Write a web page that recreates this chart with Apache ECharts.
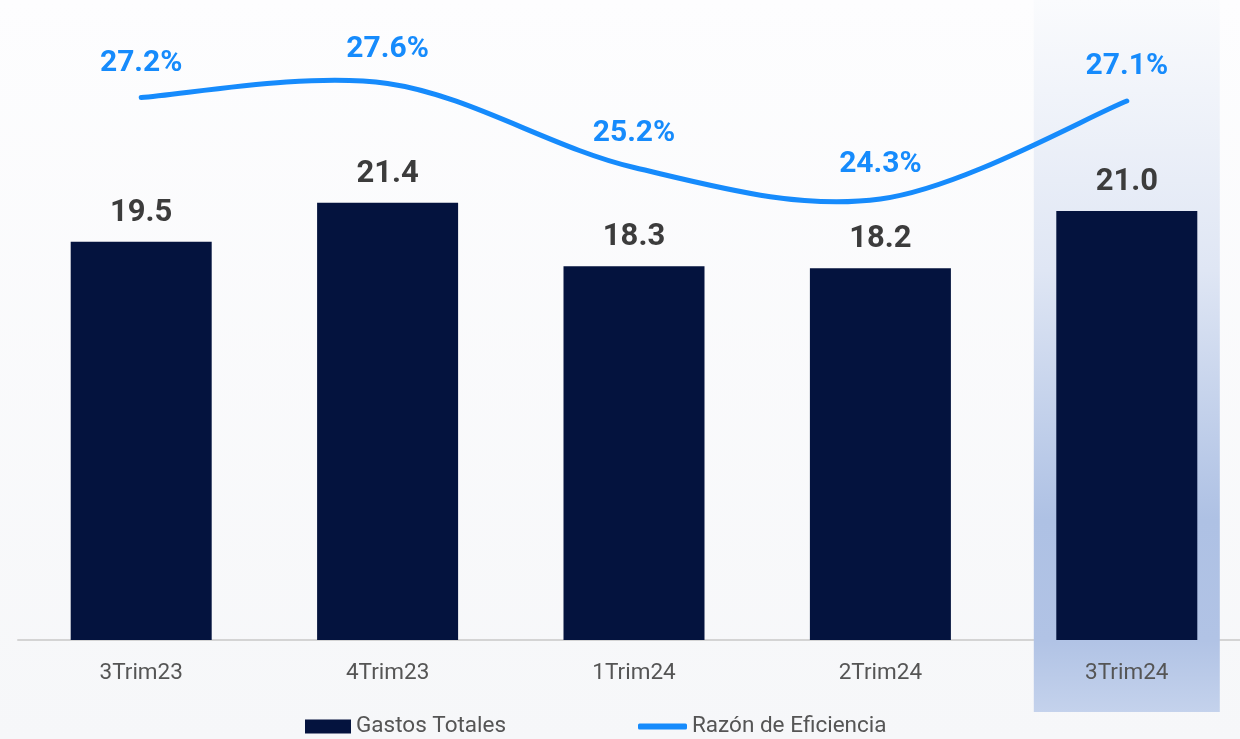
<!DOCTYPE html>
<html>
<head>
<meta charset="utf-8">
<script src="https://cdn.jsdelivr.net/npm/echarts@6/dist/echarts.min.js"></script>
<style>
  html, body { margin: 0; padding: 0; overflow: hidden; background: #f9fafb; }
  /* el area de trazado se sale un poco por la derecha, como en el original */
  #main { width: 1252px; height: 739px; background: linear-gradient(#fdfdfe, #f6f7f9); }
</style>
</head>
<body>
<div id="main"></div>
<script>
// datos
const categorias = ['3Trim23', '4Trim23', '1Trim24', '2Trim24', '3Trim24'];
const gastosTotales = [19.5, 21.4, 18.3, 18.2, 21.0];
const razonEficiencia = [27.2, 27.6, 25.2, 24.3, 27.1];
// trimestre resaltado (1 = columna sombreada)
const resaltado = [null, null, null, null, 1];

const chart = echarts.init(document.getElementById('main'));
const fuente = 'Roboto, "Noto Sans", sans-serif';
const azul = '#168bfc';

// curva suavizada tipo Excel (catmull-rom) a partir de los puntos de la serie
function dibujarCurva(params, api) {
  if (params.dataIndex !== 0) return;
  const pts = razonEficiencia.map((v, i) => api.coord([i, v]));
  const n = pts.length;
  let d = 'M' + pts[0][0] + ',' + pts[0][1];
  for (let i = 0; i < n - 1; i++) {
    const p0 = pts[Math.max(i - 1, 0)], p1 = pts[i], p2 = pts[i + 1], p3 = pts[Math.min(i + 2, n - 1)];
    const c1 = [p1[0] + (p2[0] - p0[0]) / 6, p1[1] + (p2[1] - p0[1]) / 6];
    const c2 = [p2[0] - (p3[0] - p1[0]) / 6, p2[1] - (p3[1] - p1[1]) / 6];
    d += ' C' + c1.join(',') + ' ' + c2.join(',') + ' ' + p2.join(',');
  }
  return {
    type: 'path',
    shape: { pathData: d },
    style: { fill: null, stroke: azul, lineWidth: 5, lineCap: 'round', lineJoin: 'round' }
  };
}

const option = {
  backgroundColor: 'transparent',
  animation: false,
  grid: [
    { left: 18, right: 2, top: 10, bottom: 99 },   // grafico principal
    { left: 18, right: 2, top: 0, bottom: 27 }     // sombreado del ultimo trimestre
  ],
  legend: [
    {
      left: 305, top: 715, padding: 0,
      data: ['Gastos Totales'],
      itemWidth: 46, itemHeight: 14, icon: 'rect',
      textStyle: { fontFamily: fuente, fontSize: 22.5, color: '#555' }
    },
    {
      left: 638, top: 715, padding: 0,
      data: ['Razón de Eficiencia'],
      itemWidth: 49, itemHeight: 6, icon: 'roundRect',
      itemStyle: { color: azul, opacity: 1 },
      textStyle: { fontFamily: fuente, fontSize: 22.5, color: '#555' }
    }
  ],
  xAxis: [
    {
      type: 'category', data: categorias, gridIndex: 0,
      axisLine: { lineStyle: { color: '#d4d4d4', width: 2 } },
      axisTick: { show: false },
      axisLabel: { fontFamily: fuente, fontSize: 22.5, color: '#555', margin: 22 }
    },
    { type: 'category', data: categorias, gridIndex: 1, show: false }
  ],
  yAxis: [
    { type: 'value', gridIndex: 0, min: 0, max: 30.84, show: false },
    { type: 'value', gridIndex: 0, min: 11.7, max: 29.7, show: false },
    { type: 'value', gridIndex: 1, min: 0, max: 1, show: false }
  ],
  series: [
    {
      name: 'resaltado', type: 'bar', xAxisIndex: 1, yAxisIndex: 2,
      data: resaltado, barWidth: 186, z: 0, silent: true,
      itemStyle: {
        color: new echarts.graphic.LinearGradient(0, 0, 0, 1, [
          { offset: 0, color: '#fafbfd' },
          { offset: 0.38, color: '#dfe6f4' },
          { offset: 0.73, color: '#aec1e4' },
          { offset: 0.9, color: '#b1c3e5' },
          { offset: 1, color: '#c4d2ec' }
        ])
      }
    },
    {
      name: 'Gastos Totales', type: 'bar', xAxisIndex: 0, yAxisIndex: 0,
      data: gastosTotales, barWidth: 141, z: 2,
      itemStyle: { color: '#04133e' },
      label: {
        show: true, position: 'top', distance: 13,
        formatter: p => p.value.toFixed(1),
        fontFamily: fuente, fontSize: 31, fontWeight: 'bold', color: '#3c3c3c'
      }
    },
    {
      name: 'curva', type: 'custom', xAxisIndex: 0, yAxisIndex: 1,
      data: razonEficiencia.map((v, i) => [i, v]),
      renderItem: dibujarCurva, clip: false, z: 3, silent: true
    },
    {
      name: 'Razón de Eficiencia', type: 'line', xAxisIndex: 0, yAxisIndex: 1,
      data: razonEficiencia, symbol: 'circle', symbolSize: 1, showSymbol: true, z: 4,
      lineStyle: { opacity: 0 },
      itemStyle: { color: azul, opacity: 0 },
      label: {
        show: true, position: 'top', distance: 19,
        formatter: p => p.value.toFixed(1) + '%',
        fontFamily: fuente, fontSize: 30, fontWeight: 'bold', color: azul, opacity: 1
      }
    }
  ]
};

chart.setOption(option);
</script>
</body>
</html>
